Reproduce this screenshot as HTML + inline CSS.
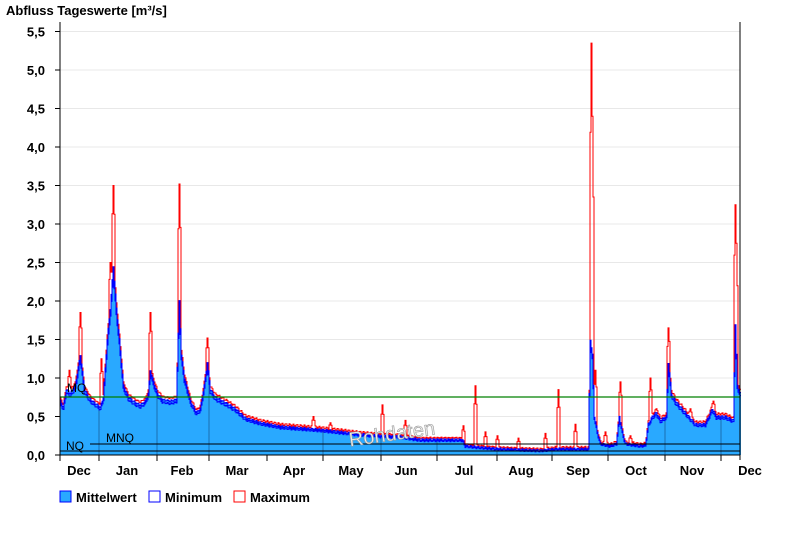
<!DOCTYPE html>
<html><head><meta charset="utf-8"><style>
body{margin:0;background:#fff;font-family:"Liberation Sans",Arial,sans-serif}
svg text{font-family:"Liberation Sans",Arial,sans-serif}
</style></head><body>
<svg id="s" width="800" height="550" xmlns="http://www.w3.org/2000/svg">
<text x="6" y="15" font-size="13" font-weight="bold">Abfluss Tageswerte [m³/s]</text>
<g id="grid"></g>
<g id="data"></g>
<g id="axes"></g>
<g font-size="13" font-weight="bold">
<rect x="60" y="491" width="11" height="11" fill="#29a9ff" stroke="#0000ff"/><text x="76" y="502">Mittelwert</text>
<rect x="149" y="491" width="11" height="11" fill="#fff" stroke="#0000ff"/><text x="165" y="502">Minimum</text>
<rect x="234" y="491" width="11" height="11" fill="#fff" stroke="#ff0000"/><text x="250" y="502">Maximum</text>
</g>
</svg>
<script>
var NS="http://www.w3.org/2000/svg";
function el(p,t,a,txt){var e=document.createElementNS(NS,t);for(var k in a)e.setAttribute(k,a[k]);if(txt)e.textContent=txt;document.getElementById(p).appendChild(e);return e;}
function Y(v){return 455-v*77;}
var X0=60,X1=740;
for(var i=0;i<=11;i++){var y=Y(i*0.5);
 if(i>0)el("grid","line",{x1:X0,x2:X1,y1:y,y2:y,stroke:"#e8e8e8"});
 el("axes","line",{x1:55,x2:60,y1:y,y2:y,stroke:"#000"});
 el("axes","text",{x:45,y:y+5,"font-size":13,"font-weight":"bold","text-anchor":"end"},(i*0.5).toFixed(1).replace(".",","));}
var K=[[60,.7],[63,.62],[66,.85],[70,.8],[75,.9],[80,1.3],[84,.85],[90,.72],[97,.65],[100,.62],[103,.75],[107,1.5],[110,1.9],[113,2.45],[116,1.9],[119,1.5],[123,.9],[128,.75],[135,.68],[140,.65],[145,.7],[148,.8],[150,1.1],[153,.95],[157,.8],[162,.72],[170,.7],[176,.72],[179,2.0],[181,1.3],[184,1.0],[190,.7],[196,.55],[200,.6],[204,.9],[207,1.2],[210,.85],[215,.75],[225,.68],[235,.6],[245,.48],[260,.42],[280,.37],[300,.35],[320,.33],[340,.3],[360,.27],[380,.25],[400,.24],[420,.2],[440,.2],[462,.2],[465,.12],[480,.1],[500,.08],[520,.07],[540,.06],[555,.08],[588,.08],[590,1.5],[592,1.3],[594,.5],[597,.3],[600,.15],[610,.12],[616,.15],[619,.5],[622,.3],[625,.15],[640,.12],[645,.13],[648,.4],[652,.5],[656,.55],[660,.45],[666,.5],[668,1.2],[671,.8],[675,.7],[685,.55],[695,.4],[705,.4],[712,.6],[716,.5],[725,.5],[733,.45],[735,1.7],[737,.9],[740,.8]];
var S=[[69,1.1],[80,1.85],[101,1.25],[110,2.5],[113,3.5],[150,1.85],[179,3.52],[207,1.52],[313,.5],[330,.42],[382,.65],[405,.45],[463,.38],[475,.9],[485,.3],[497,.25],[518,.22],[545,.28],[558,.85],[575,.4],[591,5.35],[592,4.4],[595,1.1],[605,.3],[620,.95],[630,.25],[650,1.0],[656,.6],[668,1.65],[690,.6],[713,.7],[735,3.25],[736,2.75]];
function mean(x){for(var i=1;i<K.length;i++)if(x<=K[i][0]){var a=K[i-1],b=K[i];return a[1]+(b[1]-a[1])*(x-a[0])/(b[0]-a[0]);}return .8;}
var mx=[],mn=[],me=[];
for(var x=X0;x<=X1;x++){var m=mean(x)+0.012*Math.sin(x*1.7);var M=m*1.03+0.01+0.012*Math.abs(Math.sin(x*2.3));
 S.forEach(function(s){var d=Math.abs(x-s[0]);if(d<1.5)M=Math.max(M,s[1]-d*0.3*(s[1]-m));});
 me.push([x,m]);mx.push([x,M]);mn.push([x,Math.max(0.03,m*0.96-0.008)]);}
function step(a){var d="";a.forEach(function(p,i){d+=(i?"L":"M")+p[0]+","+Y(p[1]).toFixed(1)+"L"+(p[0]+1)+","+Y(p[1]).toFixed(1);});return d;}
el("data","path",{d:step(me)+"L741,455L60,455Z",fill:"#29a9ff"});
[99,157,209,323,381,437,497,552,608,665,721].forEach(function(x){el("data","line",{x1:x,x2:x,y1:Y(mean(x)),y2:455,stroke:"#1a6fb0","stroke-width":1});});
el("data","path",{d:step(mx),fill:"none",stroke:"#ff0000","stroke-width":1});
el("data","path",{d:step(mn),fill:"none",stroke:"#0000ff","stroke-width":1});
el("data","path",{d:step(me),fill:"none",stroke:"#0000ff","stroke-width":1});
el("data","line",{x1:60,x2:740,y1:397,y2:397,stroke:"#008000","stroke-width":1.3});
el("data","line",{x1:90,x2:740,y1:444,y2:444,stroke:"#000"});
el("data","line",{x1:60,x2:740,y1:451,y2:451,stroke:"#000"});
el("data","text",{x:67,y:392,"font-size":12},"MQ");
el("data","text",{x:106,y:442,"font-size":12},"MNQ");
el("data","text",{x:66,y:450,"font-size":12},"NQ");
el("data","text",{x:348,y:440,"font-size":20,fill:"#eee",stroke:"#999","stroke-width":0.6,transform:"rotate(-8 395 430)"},"Rohdaten");
el("axes","line",{x1:60,x2:60,y1:22,y2:455,stroke:"#000"});
el("axes","line",{x1:740,x2:740,y1:22,y2:460,stroke:"#000"});
el("axes","line",{x1:60,x2:740,y1:455,y2:455,stroke:"#000"});
[60,99,157,209,267,323,381,437,497,552,608,665,721].forEach(function(x){el("axes","line",{x1:x,x2:x,y1:455,y2:461,stroke:"#000"});});
[["Dec",79],["Jan",127],["Feb",182],["Mar",237],["Apr",294],["May",351],["Jun",406],["Jul",464],["Aug",521],["Sep",578],["Oct",636],["Nov",692],["Dec",750]].forEach(function(m){el("axes","text",{x:m[1],y:475,"font-size":13,"font-weight":"bold","text-anchor":"middle"},m[0]);});
</script>
</body></html>
